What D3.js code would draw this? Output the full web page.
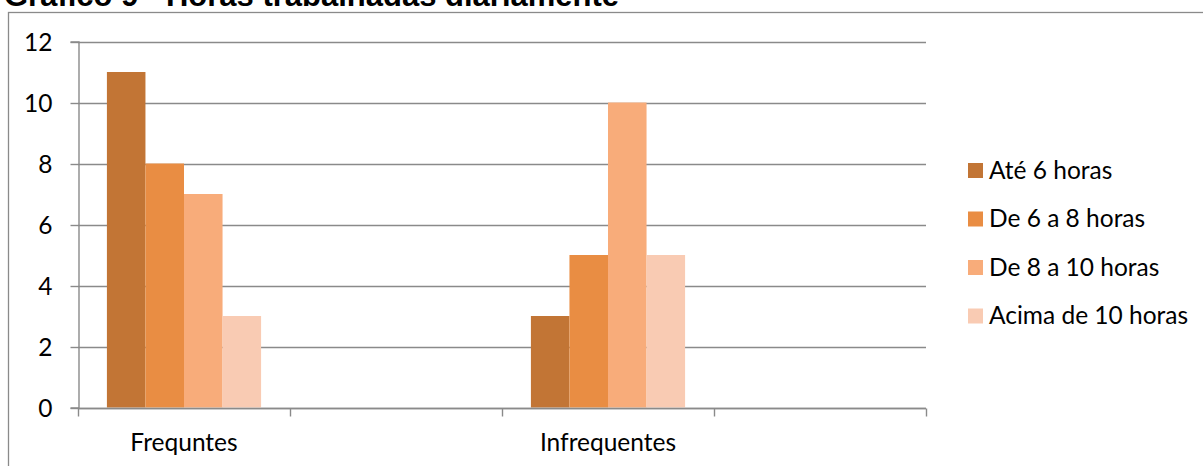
<!DOCTYPE html>
<html>
<head>
<meta charset="utf-8">
<script src="https://cdn.jsdelivr.net/npm/d3@7"></script>
<style>
  html, body { margin: 0; padding: 0; background: #fff; overflow: hidden; }
  svg { display: block; }
  text { font-family: Lato, "Open Sans", sans-serif; fill: #000; }
</style>
</head>
<body>
<svg id="chart" width="1203" height="466"></svg>
<script>
// Categories (two empty slots keep the spacing of the original worksheet)
const categories = ["Frequntes", "", "Infrequentes", ""];
const seriesNames = ["Até 6 horas", "De 6 a 8 horas", "De 8 a 10 horas", "Acima de 10 horas"];
const ate6 = [11, null, 3, null];
const de6a8 = [8, null, 5, null];
const de8a10 = [7, null, 10, null];
const acima10 = [3, null, 5, null];
const yTicks = [0, 2, 4, 6, 8, 10, 12];
const colors = ["#C27535", "#E98D43", "#F8AC7A", "#F9CBB3"];
const titleText = "Gráfico 9 - Horas trabalhadas diariamente";

const series = [ate6, de6a8, de8a10, acima10];
const svg = d3.select("#chart");
const axisColor = "#8a8a8a";
const labelSize = "24.5px";

const plot = { left: 78, right: 926, top: 41.5, bottom: 407.5 };

// Title, partly clipped by the top edge
svg.append("text")
  .attr("x", 4).attr("y", 6)
  .style("font-family", "'Liberation Sans', Arial, sans-serif")
  .style("font-weight", "bold")
  .style("font-size", "31px")
  .text(titleText);

// Chart area border
svg.append("rect")
  .attr("x", 8.5).attr("y", 12.5)
  .attr("width", 1400).attr("height", 600)
  .attr("fill", "none").attr("stroke", axisColor).attr("stroke-width", 1.3);

const x = d3.scaleBand().domain(d3.range(categories.length))
  .range([plot.left, plot.right]).padding(0);
const xInner = d3.scaleBand().domain(d3.range(series.length))
  .range([0, x.bandwidth()]).paddingInner(0).paddingOuter(0.75);
const y = d3.scaleLinear().domain([0, 12]).range([plot.bottom, plot.top]);

// Horizontal gridlines
svg.append("g").selectAll("line").data(yTicks).join("line")
  .attr("x1", plot.left).attr("x2", plot.right)
  .attr("y1", d => Math.round(y(d)) + 0.5).attr("y2", d => Math.round(y(d)) + 0.5)
  .attr("stroke", axisColor).attr("stroke-width", 1.4);

// Y axis
const yAxis = svg.append("g")
  .attr("transform", `translate(${plot.left + 0.5},0)`)
  .call(d3.axisLeft(y).tickValues(yTicks).tickSize(8).tickPadding(18).tickFormat(d3.format("d")));
yAxis.select(".domain").attr("stroke", axisColor).attr("stroke-width", 1.4);
yAxis.selectAll(".tick line").attr("stroke", axisColor).attr("stroke-width", 1.4)
  .attr("transform", "translate(0,0.5)");
yAxis.selectAll(".tick text").style("font-family", "Lato, sans-serif").style("font-size", labelSize).attr("dy", "0.36em");

// Bars
series.forEach((vals, si) => {
  svg.append("g").selectAll("rect")
    .data(vals.map((v, ci) => ({ v, ci })).filter(d => d.v != null))
    .join("rect")
    .attr("x", d => x(d.ci) + xInner(si))
    .attr("width", xInner.bandwidth())
    .attr("y", d => y(d.v))
    .attr("height", d => y(0) - y(d.v))
    .attr("fill", colors[si]);
});

// X axis with boundary ticks between categories
const xAxisG = svg.append("g").attr("transform", `translate(0,${Math.round(plot.bottom) + 0.5})`);
xAxisG.append("line").attr("x1", plot.left).attr("x2", plot.right)
  .attr("stroke", axisColor).attr("stroke-width", 1.4);
const boundaries = d3.range(categories.length + 1).map(i => i < categories.length ? x(i) : plot.right);
xAxisG.selectAll("line.tk").data(boundaries).join("line").attr("class", "tk")
  .attr("x1", d => Math.round(d) + 0.5).attr("x2", d => Math.round(d) + 0.5)
  .attr("y1", 0).attr("y2", 8)
  .attr("stroke", axisColor).attr("stroke-width", 1.4);
xAxisG.selectAll("text").data(categories.map((c, i) => ({ c, i })).filter(d => d.c)).join("text")
  .attr("x", d => x(d.i) + x.bandwidth() / 2)
  .attr("y", 42)
  .attr("text-anchor", "middle")
  .style("font-size", labelSize)
  .text(d => d.c);

// Legend
const legend = svg.append("g").attr("transform", "translate(968,170)");
const rows = legend.selectAll("g").data(seriesNames).join("g")
  .attr("transform", (d, i) => `translate(0,${i * 48.5})`);
rows.append("rect").attr("x", 0).attr("y", -7).attr("width", 15).attr("height", 15)
  .attr("fill", (d, i) => colors[i]);
rows.append("text").attr("x", 21).attr("y", 0).attr("dy", "0.36em")
  .style("font-size", labelSize)
  .text(d => d);
</script>
</body>
</html>
